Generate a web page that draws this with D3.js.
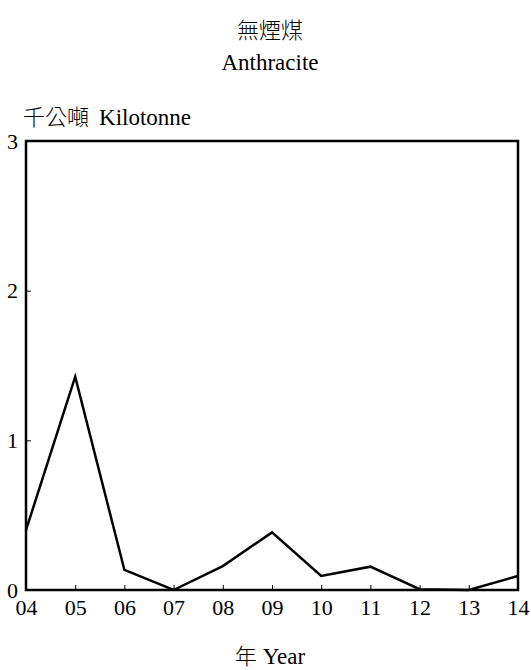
<!DOCTYPE html>
<html><head><meta charset="utf-8">
<script src="https://cdn.jsdelivr.net/npm/d3@7"></script>
<style>
body{margin:0;background:#fff;}
svg text{font-family:"Liberation Serif","Times New Roman","DejaVu Serif",serif !important;fill:#000;}
svg .cjk{font-family:"Noto Sans CJK TC","Noto Sans CJK SC",sans-serif !important;font-weight:300;}
</style></head>
<body><svg id="c" width="531" height="670"></svg>
<script>
const years = ["04","05","06","07","08","09","10","11","12","13","14"];
const values = [0.40,1.425,0.134,0.0,0.16,0.385,0.094,0.156,0.005,0.0,0.094];
const yTicks = [0,1,2,3];

const svg = d3.select("#c");
const m = {l:26, r:518, t:141, b:590};
const x = d3.scalePoint().domain(years).range([m.l, m.r]);
const y = d3.scaleLinear().domain([0,3]).range([m.b, m.t]);
const SERIF = "Liberation Serif";

// titles
svg.append("text").attr("class","cjk").attr("x",270).attr("y",38).attr("text-anchor","middle").attr("font-size",22).text("無煙煤");
svg.append("text").attr("font-family",SERIF).attr("x",270).attr("y",70).attr("text-anchor","middle").attr("font-size",23).text("Anthracite");
const yl = svg.append("text").attr("font-family",SERIF).attr("x",23).attr("y",125).attr("font-size",23);
yl.append("tspan").attr("class","cjk").attr("font-size",22).text("千公噸");
yl.append("tspan").attr("dx",10).text("Kilotonne");

// x ticks inward
const xa = svg.append("g").attr("transform",`translate(0,${m.b})`)
  .call(d3.axisBottom(x).tickSizeInner(-5).tickSizeOuter(0));
xa.attr("font-family",SERIF);
xa.select(".domain").remove();
xa.selectAll("line").attr("stroke","#000").attr("stroke-width",1);
xa.selectAll("text").attr("font-size",22).attr("y",9).attr("dy","0.71em");

const ya = svg.append("g").attr("transform",`translate(${m.l},0)`)
  .call(d3.axisLeft(y).tickValues(yTicks).tickFormat(d3.format("d")).tickSizeInner(-5).tickSizeOuter(0));
ya.attr("font-family",SERIF);
ya.select(".domain").remove();
ya.selectAll("line").attr("stroke","#000").attr("stroke-width",1);
ya.selectAll("text").attr("font-size",22).attr("x",-8).attr("dy","0.32em");

// frame
svg.append("rect").attr("x",m.l).attr("y",m.t).attr("width",m.r-m.l).attr("height",m.b-m.t)
  .attr("fill","none").attr("stroke","#000").attr("stroke-width",2.5);

// line
const line = d3.line().x((d,i)=>x(years[i])).y(d=>y(d));
svg.append("path").datum(values).attr("d",line).attr("fill","none").attr("stroke","#000").attr("stroke-width",2.5).attr("stroke-linejoin","miter");

// x title
const xt = svg.append("text").attr("font-family",SERIF).attr("x",270).attr("y",664).attr("text-anchor","middle").attr("font-size",23);
xt.append("tspan").attr("class","cjk").attr("font-size",22).text("年");
xt.append("tspan").attr("dx",6).text("Year");
</script></body></html>
